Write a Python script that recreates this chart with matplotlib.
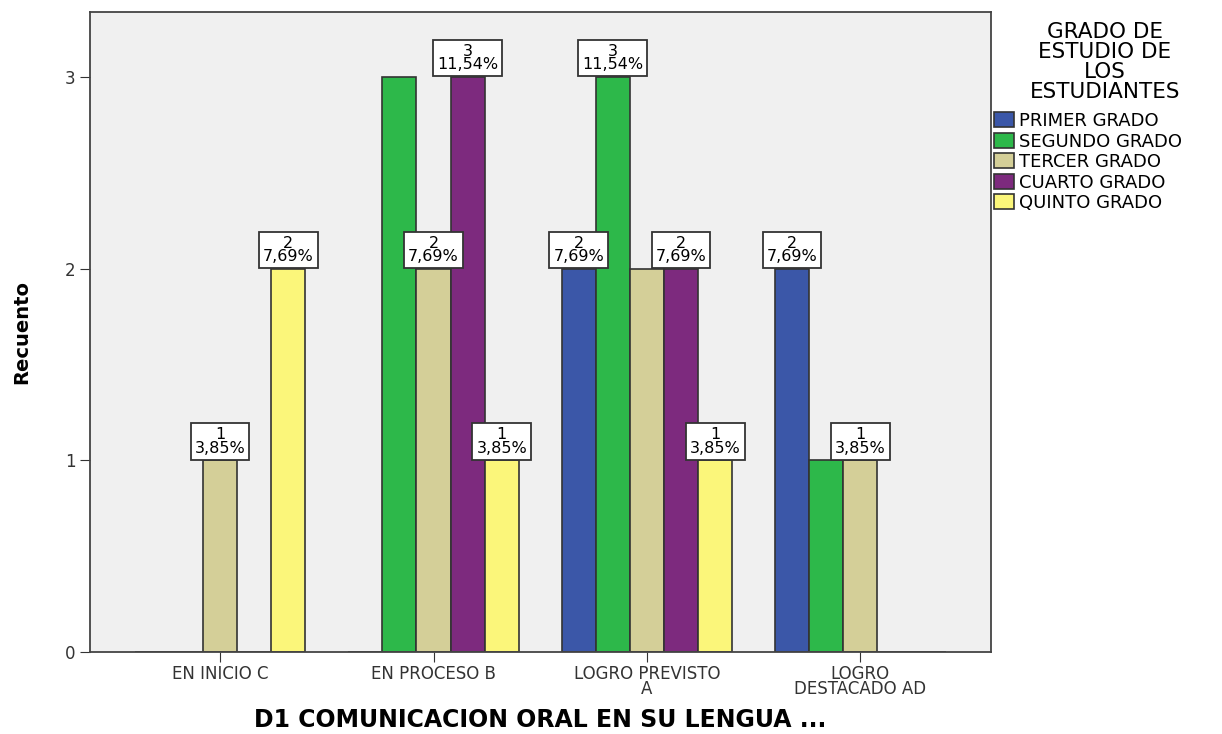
import numpy as np
import matplotlib.pyplot as plt

plt.rcParams['font.family'] = ['DejaVu Sans']

categories = ["EN INICIO C", "EN PROCESO B", "LOGRO PREVISTO\nA", "LOGRO\nDESTACADO AD"]
series = ["PRIMER GRADO", "SEGUNDO GRADO", "TERCER GRADO", "CUARTO GRADO", "QUINTO GRADO"]
primer = [0, 0, 2, 2]
segundo = [0, 3, 3, 1]
tercer = [1, 2, 2, 1]
cuarto = [0, 3, 2, 0]
quinto = [2, 1, 1, 0]
# which bars carry a label box in the original (others were hidden by overlap)
show_primer = [0, 0, 1, 1]
show_segundo = [0, 0, 1, 0]
show_tercer = [1, 1, 0, 1]
show_cuarto = [0, 1, 1, 0]
show_quinto = [1, 1, 1, 0]

colors = ["#3b57a8", "#2db84a", "#d4cf98", "#7d2a7e", "#fbf67a"]
values = [primer, segundo, tercer, cuarto, quinto]
shows = [show_primer, show_segundo, show_tercer, show_cuarto, show_quinto]
total = sum(sum(v) for v in values)

fig = plt.figure(figsize=(12.22, 7.34), dpi=100)
ax = fig.add_axes([0.0736, 0.1117, 0.737, 0.872])
ax.set_facecolor("#f0f0f0")

x = np.arange(len(categories))
w = 0.16
for i, (name, vals, col, sh) in enumerate(zip(series, values, colors, shows)):
    pos = x + (i - 2) * w
    ax.bar(pos, vals, w, color=col, edgecolor="#333333", linewidth=1.2, label=name)
    for p, v, s in zip(pos, vals, sh):
        if s and v > 0:
            pct = f"{100 * v / total:.2f}".replace(".", ",") + "%"
            ax.annotate(f"{v}\n{pct}", (p, v), xytext=(0, 3.5), textcoords="offset points",
                        ha="center", va="bottom", fontsize=11.5, linespacing=0.85,
                        bbox=dict(boxstyle="square,pad=0.25", fc="white", ec="#333333", lw=1.3))

ax.set_xlim(-0.61, 3.61)
ax.set_ylim(0, 3.34)
ax.set_yticks([0, 1, 2, 3])
ax.set_xticks(x)
ax.set_xticklabels(categories, fontsize=12, linespacing=0.85)
ax.tick_params(axis="y", labelsize=12, length=7, colors="#333333")
ax.tick_params(axis="x", length=7, colors="#333333", pad=2)
for s in ax.spines.values():
    s.set_color("#444444")
    s.set_linewidth(1.3)

ax.set_ylabel("Recuento", fontsize=14, fontweight="bold", labelpad=24)
fig.text(0.442, 0.003, "D1 COMUNICACION ORAL EN SU LENGUA ...", fontsize=17,
         fontweight="bold", ha="center", va="bottom")

fig.text(1105 / 1222, 1 - 22 / 734, "GRADO DE\nESTUDIO DE\nLOS\nESTUDIANTES",
         fontsize=15.5, ha="center", va="top", linespacing=1.0)
fig.legend(loc="upper left", bbox_to_anchor=(994 / 1222, 1 - 112 / 734), frameon=False,
           fontsize=13, handlelength=1.1, handleheight=0.9,
           handletextpad=0.3, labelspacing=0.14, borderaxespad=0, borderpad=0)

fig.savefig("out.png", dpi=100)
